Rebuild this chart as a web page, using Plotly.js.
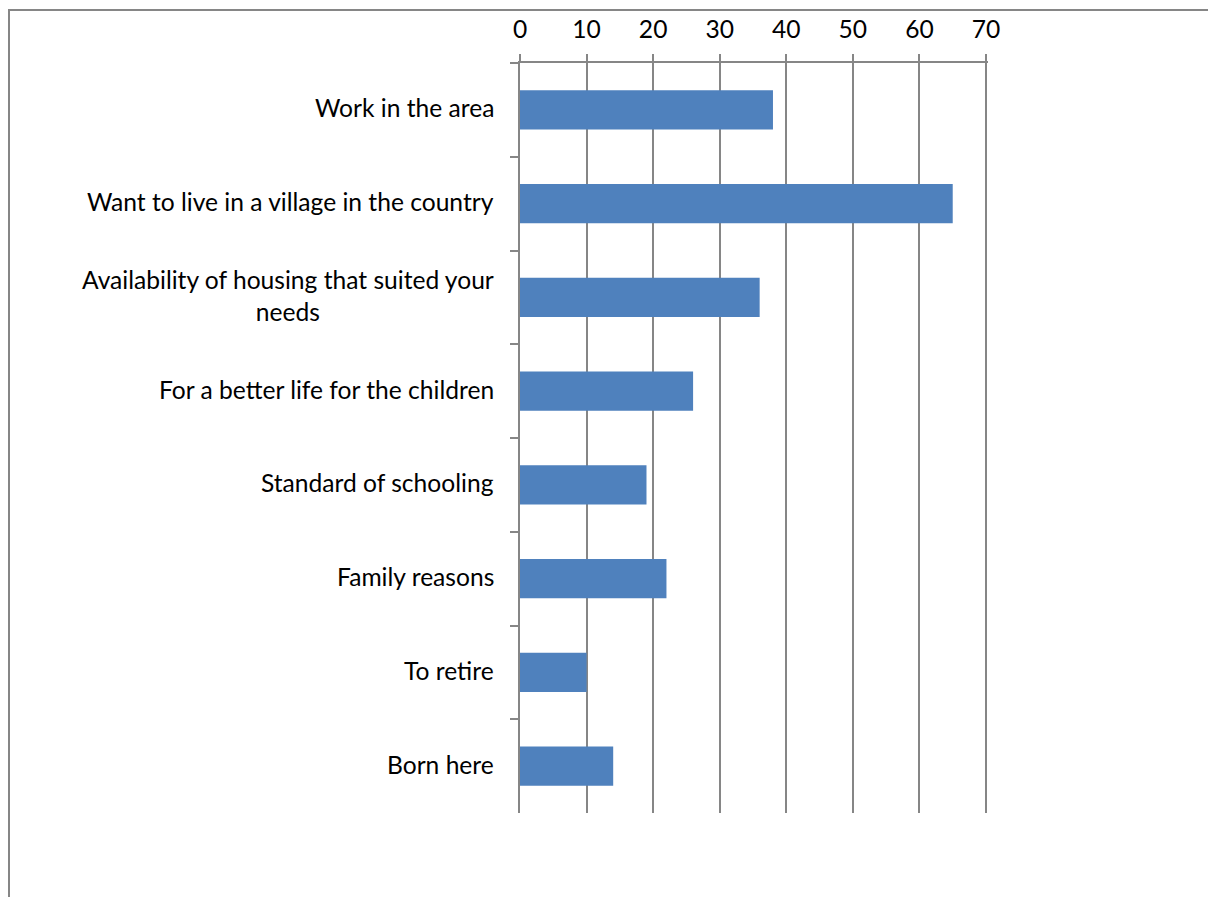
<!DOCTYPE html>
<html>
<head>
<meta charset="utf-8">
<script src="https://cdn.plot.ly/plotly-3.0.1.min.js"></script>
<style>
html, body { margin: 0; padding: 0; background: #fff; }
#frame { position: absolute; left: 8px; top: 9px; width: 1200px; height: 888px; border-left: 2px solid #868686; border-top: 2px solid #868686; box-sizing: border-box; }
#chart { position: absolute; left: 0; top: 0; width: 1208px; height: 897px; }
</style>
</head>
<body>
<div id="frame"></div>
<div id="chart"></div>
<script>
const categories = [
  "Work in the area",
  "Want to live in a village in the country",
  "Availability of housing that suited your<br>needs",
  "For a better life for the children",
  "Standard of schooling",
  "Family reasons",
  "To retire",
  "Born here"
];
const values = [38, 65, 36, 26, 19, 22, 10, 14];
const xTicks = [0, 10, 20, 30, 40, 50, 60, 70];

const FONT = "Lato, 'Open Sans', sans-serif";
const FSIZE = 24.6;

const trace = {
  type: "bar",
  orientation: "h",
  y: categories,
  x: values,
  marker: { color: "#4F81BD", line: { width: 0 } },
  hoverinfo: "x+y"
};

const annotations = categories.map(c => ({
  xref: "paper", yref: "y",
  x: 0, y: c,
  xanchor: "right", yanchor: "middle",
  xshift: -24,
  yshift: 2,
  align: "center",
  text: c,
  showarrow: false,
  font: { family: FONT, size: FSIZE, color: "#000" }
}));

const layout = {
  width: 1208, height: 897,
  margin: { l: 520, r: 220, t: 63, b: 84 },
  paper_bgcolor: "rgba(0,0,0,0)",
  plot_bgcolor: "rgba(0,0,0,0)",
  showlegend: false,
  bargap: 0.58,
  font: { family: FONT, size: FSIZE, color: "#000" },
  xaxis: {
    side: "top",
    range: [0, 70.3],
    tickvals: xTicks,
    ticktext: xTicks.map(String),
    ticks: "outside",
    ticklen: 7,
    tickwidth: 2,
    tickcolor: "#868686",
    showline: true,
    linecolor: "#868686",
    linewidth: 2,
    showgrid: true,
    gridcolor: "#868686",
    gridwidth: 2,
    zeroline: false,
    ticklabelstandoff: 6,
    tickfont: { family: FONT, size: FSIZE, color: "#000" },
    fixedrange: true
  },
  yaxis: {
    type: "category",
    autorange: "reversed",
    showticklabels: false,
    ticks: "outside",
    tickson: "boundaries",
    ticklen: 8,
    tickwidth: 2,
    tickcolor: "#868686",
    showline: true,
    linecolor: "#868686",
    linewidth: 2,
    showgrid: false,
    zeroline: false,
    fixedrange: true
  },
  annotations: annotations
};

Plotly.newPlot("chart", [trace], layout, { displayModeBar: false });
</script>
</body>
</html>
